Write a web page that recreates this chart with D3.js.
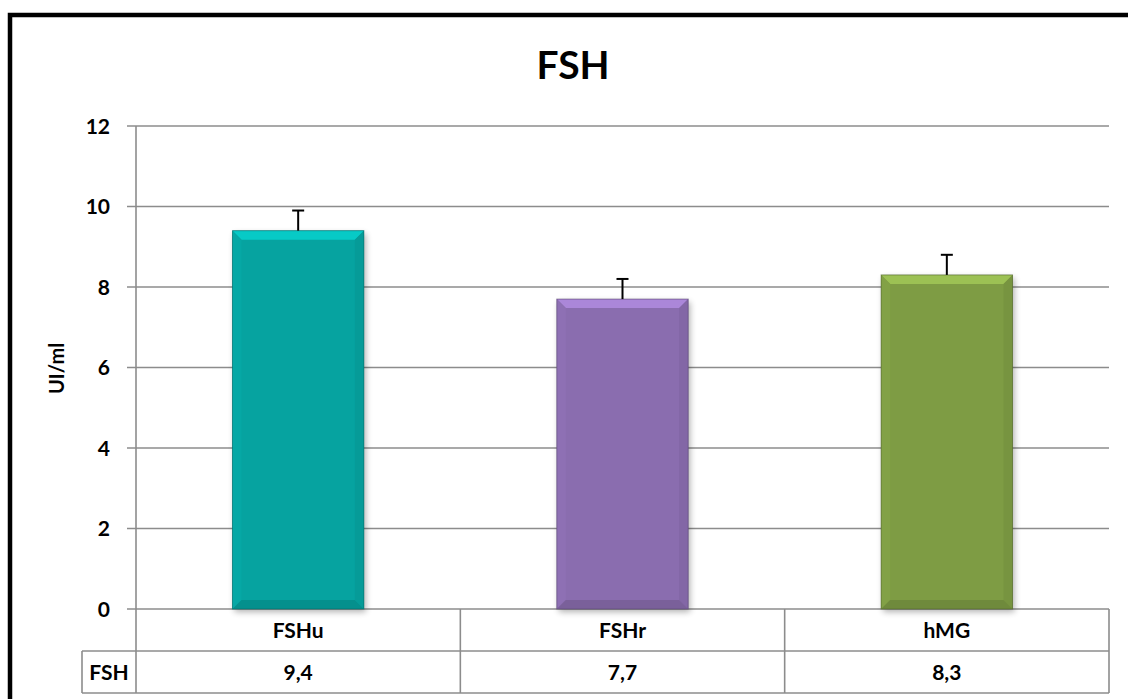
<!DOCTYPE html>
<html>
<head>
<meta charset="utf-8">
<script src="https://cdn.jsdelivr.net/npm/d3@7"></script>
<style>
  html, body { margin: 0; padding: 0; background: #fff; }
  svg { display: block; font-family: Lato, "Open Sans", "Liberation Sans", sans-serif; }
</style>
</head>
<body>
<script>
// Mean FSH levels per preparation, with upper error bars
const categories = ["FSHu", "FSHr", "hMG"];
const values = [9.4, 7.7, 8.3];
const errors = [0.5, 0.5, 0.5];
const valueLabels = ["9,4", "7,7", "8,3"];
const barColors = ["#06A3A0", "#8A6DAF", "#7E9C44"];
const yTicks = [0, 2, 4, 6, 8, 10, 12];
const seriesName = "FSH";
const chartTitle = "FSH";
const yLabel = "UI/ml";

const W = 1128, H = 699;
const plot = { left: 136, right: 1109, top: 126, bottom: 609 };
const rowH = 42;
const labelCellLeft = 82;

const svg = d3.select("body").append("svg").attr("width", W).attr("height", H);
const defs = svg.append("defs");
defs.append("filter").attr("id", "shadow").attr("x", "-20%").attr("y", "-20%").attr("width", "140%").attr("height", "140%")
  .append("feGaussianBlur").attr("stdDeviation", 3);

// outer frame (only the top and left edges fall inside the view)
svg.append("rect").attr("x", 10).attr("y", 15).attr("width", 1300).attr("height", 900)
  .attr("fill", "none").attr("stroke", "#000").attr("stroke-width", 4.5);

const x = d3.scaleBand().domain(categories).range([plot.left, plot.right]);
const y = d3.scaleLinear().domain([0, 12]).range([plot.bottom, plot.top]);

const grey = "#8c8c8c";

// horizontal gridlines and tick marks
svg.append("g").selectAll("line").data(yTicks).join("line")
  .attr("x1", plot.left - 9).attr("x2", plot.right)
  .attr("y1", d => y(d)).attr("y2", d => y(d))
  .attr("stroke", grey).attr("stroke-width", 1.6);

// y axis line
svg.append("line").attr("x1", plot.left).attr("x2", plot.left)
  .attr("y1", plot.top).attr("y2", plot.bottom + 2 * rowH)
  .attr("stroke", grey).attr("stroke-width", 1.6);

// y tick labels
svg.append("g").selectAll("text").data(yTicks).join("text")
  .attr("x", 110).attr("y", d => y(d)).attr("dy", "0.36em")
  .attr("text-anchor", "end").attr("font-size", 21).attr("font-weight", 700)
  .text(d => d);

// y axis title
svg.append("text").attr("transform", `translate(64,${(plot.top + plot.bottom) / 2 + 1}) rotate(-90)`)
  .attr("text-anchor", "middle").attr("font-size", 20).attr("font-weight", 700)
  .text(yLabel);

// chart title
svg.append("text").attr("x", 573).attr("y", 79).attr("text-anchor", "middle")
  .attr("font-size", 39).attr("font-weight", 700).text(chartTitle);

// bars with bevelled faces
const barFrac = 0.405;
const bev = 9;
categories.forEach((c, i) => {
  const bw = x.bandwidth() * barFrac;
  const x0 = x(c) + (x.bandwidth() - bw) / 2;
  const x1 = x0 + bw;
  const y0 = y(values[i]);
  const y1 = y(0);
  const base = d3.color(barColors[i]);
  const g = svg.append("g");
  g.append("rect").attr("x", x0 + 2).attr("y", y0 + 3).attr("width", bw).attr("height", y1 - y0)
    .attr("fill", "#000").attr("opacity", 0.3).attr("filter", "url(#shadow)");
  g.append("rect").attr("x", x0).attr("y", y0).attr("width", bw).attr("height", y1 - y0).attr("fill", base);
  const poly = (pts, fill) => g.append("polygon").attr("points", pts.map(p => p.join(",")).join(" ")).attr("fill", fill);
  poly([[x0, y0], [x1, y0], [x1 - bev, y0 + bev], [x0 + bev, y0 + bev]], base.brighter(0.6));
  poly([[x0, y0], [x0 + bev, y0 + bev], [x0 + bev, y1 - bev], [x0, y1]], base.brighter(0.08));
  poly([[x1, y0], [x1, y1], [x1 - bev, y1 - bev], [x1 - bev, y0 + bev]], base.darker(0.15));
  poly([[x0, y1], [x0 + bev, y1 - bev], [x1 - bev, y1 - bev], [x1, y1]], base.darker(0.35));
  g.append("rect").attr("x", x0).attr("y", y0).attr("width", bw).attr("height", y1 - y0)
    .attr("fill", "none").attr("stroke", base.darker(1.2)).attr("stroke-width", 1).attr("opacity", 0.6);

  // upper error bar
  const cx = x(c) + x.bandwidth() / 2;
  const ye = y(values[i] + errors[i]);
  g.append("line").attr("x1", cx).attr("x2", cx).attr("y1", y0).attr("y2", ye)
    .attr("stroke", "#000").attr("stroke-width", 2);
  g.append("line").attr("x1", cx - 6).attr("x2", cx + 6).attr("y1", ye).attr("y2", ye)
    .attr("stroke", "#000").attr("stroke-width", 2);
});

// data table below the axis
const tbl = svg.append("g");
const r1 = plot.bottom + rowH, r2 = plot.bottom + 2 * rowH;
tbl.append("line").attr("x1", labelCellLeft).attr("x2", plot.right).attr("y1", r1).attr("y2", r1)
  .attr("stroke", grey).attr("stroke-width", 1.6);
tbl.append("line").attr("x1", labelCellLeft).attr("x2", plot.right).attr("y1", r2).attr("y2", r2)
  .attr("stroke", grey).attr("stroke-width", 1.6);
tbl.append("line").attr("x1", labelCellLeft).attr("x2", labelCellLeft).attr("y1", r1).attr("y2", r2)
  .attr("stroke", grey).attr("stroke-width", 1.6);
const edges = categories.slice(1).map(c => x(c)).concat([plot.right]);
tbl.selectAll("line.v").data(edges).join("line").attr("class", "v")
  .attr("x1", d => d).attr("x2", d => d).attr("y1", plot.bottom).attr("y2", r2)
  .attr("stroke", grey).attr("stroke-width", 1.6);

tbl.selectAll("text.cat").data(categories).join("text").attr("class", "cat")
  .attr("x", d => x(d) + x.bandwidth() / 2).attr("y", plot.bottom + rowH / 2).attr("dy", "0.36em")
  .attr("text-anchor", "middle").attr("font-size", 21).attr("font-weight", 700).text(d => d);
tbl.selectAll("text.val").data(valueLabels).join("text").attr("class", "val")
  .attr("x", (d, i) => x(categories[i]) + x.bandwidth() / 2).attr("y", r1 + rowH / 2).attr("dy", "0.36em")
  .attr("text-anchor", "middle").attr("font-size", 21).attr("font-weight", 700).text(d => d);
tbl.append("text").attr("x", 109).attr("y", r1 + rowH / 2).attr("dy", "0.36em")
  .attr("text-anchor", "middle").attr("font-size", 21).attr("font-weight", 700).text(seriesName);
</script>
</body>
</html>
